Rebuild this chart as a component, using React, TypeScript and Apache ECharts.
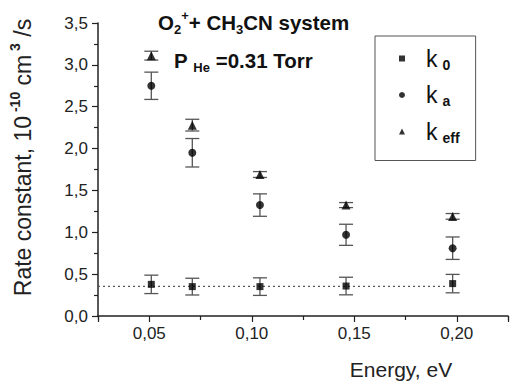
import React, { useEffect, useRef } from "react";
import * as echarts from "echarts";

const energies = [0.051, 0.071, 0.104, 0.146, 0.198];
const k0Values = [0.378, 0.351, 0.351, 0.358, 0.387];
const k0Errors = [0.11, 0.1, 0.105, 0.105, 0.11];
const kaValues = [2.75, 1.95, 1.325, 0.97, 0.81];
const kaErrors = [0.163, 0.17, 0.134, 0.126, 0.134];
const keffValues = [3.11, 2.28, 1.69, 1.325, 1.19];
const keffErrors = [0.053, 0.07, 0.035, 0.03, 0.034];
const baselineLevel = 0.355;
const baselineRange = [0.025, 0.195];

const FONT = "Liberation Sans, Arial, sans-serif";

function comma(v: number, d: number) {
  return v.toFixed(d).replace(".", ",");
}

export default function App() {
  const ref = useRef<HTMLDivElement>(null);
  useEffect(() => {
    if (!ref.current) return;
    const chart = echarts.init(ref.current, undefined, { renderer: "svg" });

    const errData: number[][] = [];
    const addErr = (vals: number[], errs: number[]) =>
      vals.forEach((v, i) => errData.push([energies[i], v - errs[i], v + errs[i]]));
    addErr(k0Values, k0Errors);
    addErr(kaValues, kaErrors);
    addErr(keffValues, keffErrors);

    const pts = (vals: number[]) => vals.map((v, i) => [energies[i], v]);

    const legendRich = {
      k: { fontSize: 23, fontFamily: FONT, color: "#111", padding: [0, 0, 0, 16], lineHeight: 26 },
      s: { fontSize: 14, fontWeight: "bold", fontFamily: FONT, color: "#111", verticalAlign: "bottom", padding: [0, 0, 0, 5] },
    };
    const subOf: Record<string, string> = { k0: "0", ka: "a", keff: "eff" };

    const titleRich = {
      b: { fontSize: 20.5, fontWeight: "bold", fontFamily: FONT, color: "#111", lineHeight: 27 },
      sub: { fontSize: 13, fontWeight: "bold", fontFamily: FONT, color: "#111", verticalAlign: "bottom", lineHeight: 14 },
      sup: { fontSize: 13, fontWeight: "bold", fontFamily: FONT, color: "#111", verticalAlign: "top", lineHeight: 14 },
    };

    const option: any = {
      animation: false,
      backgroundColor: "#fff",
      title: [
        {
          text: "{b|O}{sub|2}{sup|+}{b|+ CH}{sub|3}{b|CN system}",
          left: 158,
          top: 9,
          padding: 0,
          textStyle: { rich: titleRich },
        },
        {
          text: "{b|P }{sub|He}{b| =0.31 Torr}",
          left: 174,
          top: 47,
          padding: 0,
          textStyle: { rich: titleRich },
        },
      ],
      legend: {
        orient: "vertical",
        left: 375,
        top: 36,
        padding: [11, 16, 16, 24],
        itemGap: 12,
        itemWidth: 6,
        itemHeight: 6,
        borderColor: "#555",
        borderWidth: 1,
        data: ["k0", "ka", "keff"],
        formatter: (name: string) => `{k|k}{s|${subOf[name]}}`,
        textStyle: { rich: legendRich },
      },
      grid: { left: 84, right: 1, top: 23, bottom: 66 },
      xAxis: [
        {
          type: "value",
          min: 0.025,
          max: 0.225,
          splitNumber: 4,
          position: "bottom",
          axisLine: { lineStyle: { color: "#222", width: 1.5 } },
          axisTick: { length: 6, lineStyle: { color: "#222", width: 1.2 } },
          splitLine: { show: false },
          axisLabel: {
            margin: 9,
            fontSize: 17,
            fontFamily: FONT,
            color: "#222",
            formatter: (v: number) => {
              const r = Math.round(v * 1000);
              return r % 50 === 0 ? comma(v, 2) : "";
            },
          },
          name: "Energy, eV",
          nameLocation: "middle",
          nameGap: 43,
          nameTextStyle: { fontSize: 21, fontFamily: FONT, color: "#222", padding: [0, 0, 0, 196] },
        },
        {
          type: "value",
          min: 0.025,
          max: 0.225,
          interval: 0.05,
          position: "bottom",
          axisLine: { show: false },
          axisTick: { length: 4, lineStyle: { color: "#222", width: 1.2 } },
          axisLabel: { show: false },
          splitLine: { show: false },
        },
      ],
      yAxis: {
        type: "value",
        min: 0,
        max: 3.5,
        interval: 0.5,
        axisLine: { show: true, lineStyle: { color: "#222", width: 1.5 } },
        axisTick: { show: true, length: 6, lineStyle: { color: "#222", width: 1.2 } },
        minorTick: { show: true, splitNumber: 2, length: 4, lineStyle: { color: "#222", width: 1.2 } },
        splitLine: { show: false },
        minorSplitLine: { show: false },
        axisLabel: {
          margin: 10,
          fontSize: 17,
          fontFamily: FONT,
          color: "#222",
          formatter: (v: number) => comma(v, 1),
        },
        name: "{t|Rate constant, 10}{s| -10}{t| cm}{s| 3}{t| /s}",
        nameLocation: "middle",
        nameRotate: 90,
        nameGap: 60,
        nameTextStyle: {
          padding: [0, 0, 0, 24],
          rich: {
            t: { fontSize: 23, fontFamily: FONT, color: "#222", lineHeight: 30 },
            s: { fontSize: 14, fontWeight: "bold", fontFamily: FONT, color: "#222", verticalAlign: "top", lineHeight: 15 },
          },
        },
      },
      series: [
        {
          type: "line",
          data: [
            [baselineRange[0], baselineLevel],
            [baselineRange[1], baselineLevel],
          ],
          symbol: "none",
          lineStyle: { color: "#555", width: 1.2, type: [2, 3] },
          silent: true,
          z: 1,
        },
        {
          type: "custom",
          data: errData,
          z: 2,
          renderItem: (params: any, api: any) => {
            const x = api.value(0);
            const top = api.coord([x, api.value(2)]);
            const bot = api.coord([x, api.value(1)]);
            const w = 7;
            const st = { stroke: "#555", lineWidth: 1.3 };
            return {
              type: "group",
              children: [
                { type: "line", shape: { x1: top[0], y1: top[1], x2: bot[0], y2: bot[1] }, style: st },
                { type: "line", shape: { x1: top[0] - w, y1: top[1], x2: top[0] + w, y2: top[1] }, style: st },
                { type: "line", shape: { x1: bot[0] - w, y1: bot[1], x2: bot[0] + w, y2: bot[1] }, style: st },
              ],
            };
          },
        },
        {
          name: "k0",
          type: "scatter",
          data: pts(k0Values),
          symbol: "rect",
          symbolSize: 7,
          itemStyle: { color: "#000" },
          z: 5,
        },
        {
          name: "ka",
          type: "scatter",
          data: pts(kaValues),
          symbol: "circle",
          symbolSize: 8,
          itemStyle: { color: "#000" },
          z: 5,
        },
        {
          name: "keff",
          type: "scatter",
          data: pts(keffValues),
          symbol: "triangle",
          symbolSize: 9,
          itemStyle: { color: "#000" },
          z: 5,
        },
      ],
    };
    chart.setOption(option);
    return () => chart.dispose();
  }, []);
  return <div ref={ref} style={{ width: 511, height: 385, position: "absolute", left: 0, top: 0 }} />;
}
